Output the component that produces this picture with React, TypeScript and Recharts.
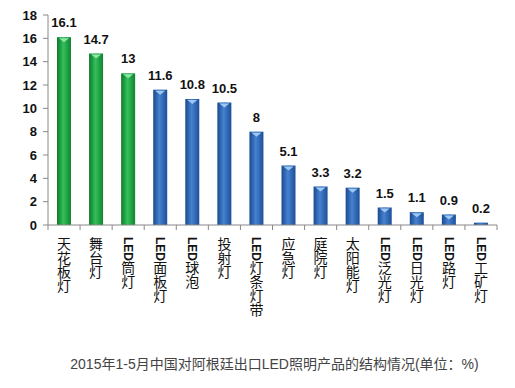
import React from 'react';
import { BarChart, Bar, XAxis, YAxis, LabelList, Cell } from 'recharts';

const categories = [
  '天花板灯', '舞台灯', 'LED筒灯', 'LED面板灯', 'LED球泡', '投射灯', 'LED灯条灯带',
  '应急灯', '庭院灯', '太阳能灯', 'LED泛光灯', 'LED日光灯', 'LED路灯', 'LED工矿灯',
];
const shares = [16.1, 14.7, 13, 11.6, 10.8, 10.5, 8, 5.1, 3.3, 3.2, 1.5, 1.1, 0.9, 0.2];
const highlighted = [true, true, true, false, false, false, false, false, false, false, false, false, false, false];
const yTicks = [0, 2, 4, 6, 8, 10, 12, 14, 16, 18];
const title = '2015年1-5月中国对阿根廷出口LED照明产品的结构情况(单位：%)';

const W = 515;
const H = 388;
const margin = { top: 15, right: 18, left: 8, bottom: 63 };
const yAxisWidth = 40;
const band = (W - margin.left - margin.right - yAxisWidth) / categories.length;

const data = categories.map((name, i) => ({ name, value: shares[i], green: highlighted[i] }));

// vertical label, latin part turns sideways by itself (text-orientation mixed)
const VerticalTick = (props: any) => {
  const { x, y, payload, index } = props;
  const label: string = payload.value;
  const hasLed = label.startsWith('LED');
  const rest = hasLed ? label.slice(3) : label;
  return (
    <g>
      <line x1={x - band / 2} y1={y} x2={x - band / 2} y2={y + 5} stroke="#888" />
      {index === categories.length - 1 && (
        <line x1={x + band / 2} y1={y} x2={x + band / 2} y2={y + 5} stroke="#888" />
      )}
      <text
        x={x}
        y={y + 12}
        textAnchor="start"
        fontSize={14}
        fontFamily="Noto Sans CJK SC, sans-serif"
        fill="#111"
        stroke="none"
        style={{ writingMode: 'vertical-rl', textOrientation: 'mixed' } as any}
      >
        {hasLed && (
          <tspan fontWeight="bold" fontSize={12} fontFamily="Liberation Sans, Arial, sans-serif">
            LED
          </tspan>
        )}
        <tspan>{rest}</tspan>
      </text>
    </g>
  );
};

const CylinderBar = (props: any) => {
  const { x, y, width, height, payload } = props;
  if (!height || height <= 0) return null;
  const id = payload.green ? 'gradGreen' : 'gradBlue';
  const cap = payload.green ? '#8ee6a8' : '#9cc8f2';
  const ry = Math.min(3, height / 2);
  return (
    <g>
      <rect x={x} y={y} width={width} height={height} fill={`url(#${id})`} />
      <ellipse cx={x + width / 2} cy={y + ry} rx={width / 2 - 0.5} ry={ry} fill={`url(#${id})`} />
      {height > 4 && (
        <path
          d={`M${x + 2},${y + 1} L${x + width - 2},${y + 1} L${x + width / 2},${y + 5} Z`}
          fill={cap}
        />
      )}
    </g>
  );
};

export default function App() {
  return (
    <div style={{ position: 'absolute', left: 0, top: 0, width: W, height: H, background: '#fff' }}>
      <BarChart width={W} height={H} data={data} margin={margin} barCategoryGap={0}>
        <defs>
          <linearGradient id="gradGreen" x1="0" y1="0" x2="1" y2="0">
            <stop offset="0%" stopColor="#0d7a2c" />
            <stop offset="45%" stopColor="#33c05a" />
            <stop offset="100%" stopColor="#0f8532" />
          </linearGradient>
          <linearGradient id="gradBlue" x1="0" y1="0" x2="1" y2="0">
            <stop offset="0%" stopColor="#1b4a8e" />
            <stop offset="45%" stopColor="#4582d0" />
            <stop offset="100%" stopColor="#1d4f98" />
          </linearGradient>
        </defs>
        <XAxis
          dataKey="name"
          height={100}
          interval={0}
          tickLine={false}
          tickSize={0}
          tickMargin={0}
          stroke="#888"
          tick={<VerticalTick />}
        />
        <YAxis
          width={yAxisWidth}
          domain={[0, 18]}
          ticks={yTicks}
          interval={0}
          tickSize={5}
          tickMargin={6}
          stroke="#888"
          tick={{ fill: '#111', fontSize: 13, fontWeight: 'bold', fontFamily: 'Liberation Sans, Arial, sans-serif' }}
        />
        <Bar dataKey="value" barSize={14} isAnimationActive={false} shape={<CylinderBar />}>
          {data.map((d, i) => (
            <Cell key={i} fill={d.green ? '#1fa84a' : '#2f6cbf'} />
          ))}
          <LabelList
            dataKey="value"
            position="top"
            offset={10}
            fill="#111"
            fontSize={13}
            fontWeight="bold"
            fontFamily="Liberation Sans, Arial, sans-serif"
          />
        </Bar>
      </BarChart>
      <div
        style={{
          position: 'absolute',
          left: 0,
          width: W,
          top: 353,
          textAlign: 'center',
          fontSize: 14,
          color: '#444',
          fontFamily: 'Liberation Sans, Arial, Noto Sans CJK SC, sans-serif',
          paddingLeft: 34,
          boxSizing: 'border-box',
          whiteSpace: 'nowrap',
        }}
      >
        {title}
      </div>
    </div>
  );
}
